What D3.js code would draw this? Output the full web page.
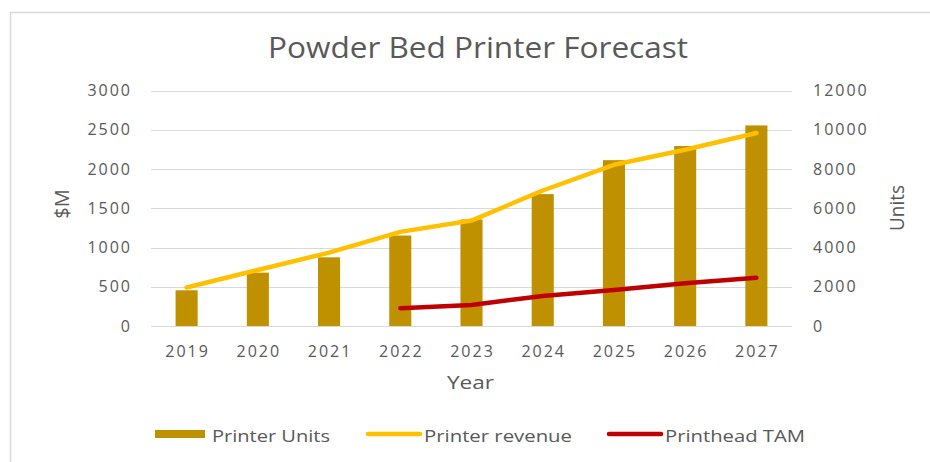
<!DOCTYPE html>
<html><head><meta charset="utf-8">
<script src="https://cdn.jsdelivr.net/npm/d3@7"></script>
<style>body{margin:0;background:#fff}svg text{font-family:"Open Sans",sans-serif;fill:#595959}</style>
</head><body><svg id="c" width="930" height="462"></svg>
<script>
const years = ["2019","2020","2021","2022","2023","2024","2025","2026","2027"];
const printerUnits = [1820, 2720, 3500, 4610, 5430, 6720, 8450, 9170, 10220];
const printerRevenue = [490, 714, 935, 1199, 1343, 1726, 2054, 2245, 2458];
const tamYears = ["2022","2023","2024","2025","2026","2027"];
const printheadTAM = [226, 268, 383, 459, 544, 616];
const leftTicks = [0,500,1000,1500,2000,2500,3000];
const rightTicks = [0,2000,4000,6000,8000,10000,12000];

const svg = d3.select("#c");
const x = d3.scaleBand().domain(years).range([151,792]).paddingInner(0.69).paddingOuter(0.345);
const yL = d3.scaleLinear().domain([0,3000]).range([326,90.5]);
const yR = d3.scaleLinear().domain([0,12000]).range([326,90.5]);

// border
svg.append("path").attr("d","M10.5,462 V12.5 H930").attr("fill","none").attr("stroke","#d9d9d9").attr("stroke-width",1.5);

svg.append("text").attr("x",268).attr("y",58).attr("font-size",30).attr("fill","#606060")
  .attr("textLength",420).attr("lengthAdjust","spacingAndGlyphs").text("Powder Bed Printer Forecast");

// gridlines
svg.append("g").selectAll("line").data(leftTicks).join("line")
  .attr("x1",151).attr("x2",792).attr("y1",d=>Math.round(yL(d))+0.5).attr("y2",d=>Math.round(yL(d))+0.5)
  .attr("stroke","#d9d9d9").attr("stroke-width",1);

function styleTicks(g){
  g.select(".domain").remove();
  g.selectAll("text").attr("font-size",16).style("font-family","Open Sans").style("letter-spacing","2px").attr("fill","#595959");
}
const axL = svg.append("g").attr("transform","translate(132,0)")
  .call(d3.axisLeft(yL).tickValues(leftTicks).tickFormat(d3.format("d")).tickSize(0).tickPadding(0));
styleTicks(axL);
const axR = svg.append("g").attr("transform","translate(813,0)")
  .call(d3.axisRight(yR).tickValues(rightTicks).tickFormat(d3.format("d")).tickSize(0).tickPadding(0));
styleTicks(axR);
const axB = svg.append("g").attr("transform","translate(1,343)").call(d3.axisBottom(x).tickSize(0).tickPadding(3));
styleTicks(axB);

svg.append("text").attr("transform","translate(69,204) rotate(-90)").attr("text-anchor","middle").attr("font-size",20).text("$M");
svg.append("text").attr("transform","translate(904,208) rotate(-90)").attr("text-anchor","middle").attr("font-size",20)
  .attr("textLength",46).attr("lengthAdjust","spacingAndGlyphs").text("Units");
svg.append("text").attr("x",447).attr("y",389).attr("font-size",19)
  .attr("textLength",47).attr("lengthAdjust","spacingAndGlyphs").text("Year");

// bars
svg.append("g").selectAll("rect").data(printerUnits).join("rect")
  .attr("x",(d,i)=>x(years[i])).attr("width",x.bandwidth())
  .attr("y",d=>yR(d)).attr("height",d=>yR(0)-yR(d)).attr("fill","#BF9000");

const line = d3.line().x(d=>x(d[0])+x.bandwidth()/2).y(d=>yL(d[1]));
svg.append("path").datum(years.map((y,i)=>[y,printerRevenue[i]])).attr("d",line)
  .attr("fill","none").attr("stroke","#FFC000").attr("stroke-width",4.5).attr("stroke-linecap","round").attr("stroke-linejoin","round");
svg.append("path").datum(tamYears.map((y,i)=>[y,printheadTAM[i]])).attr("d",line)
  .attr("fill","none").attr("stroke","#C00000").attr("stroke-width",4.5).attr("stroke-linecap","round").attr("stroke-linejoin","round");

// legend
const lg = svg.append("g").attr("font-size",16);
lg.append("rect").attr("x",155).attr("y",430).attr("width",50).attr("height",8).attr("fill","#BF9000");
lg.append("text").attr("x",212).attr("y",442).attr("textLength",118).attr("lengthAdjust","spacingAndGlyphs").text("Printer Units");
lg.append("line").attr("x1",368).attr("x2",420).attr("y1",434).attr("y2",434).attr("stroke","#FFC000").attr("stroke-width",4.5).attr("stroke-linecap","round");
lg.append("text").attr("x",424).attr("y",442).attr("textLength",148).attr("lengthAdjust","spacingAndGlyphs").text("Printer revenue");
lg.append("line").attr("x1",609).attr("x2",661).attr("y1",434).attr("y2",434).attr("stroke","#C00000").attr("stroke-width",4.5).attr("stroke-linecap","round");
lg.append("text").attr("x",665).attr("y",442).attr("textLength",140).attr("lengthAdjust","spacingAndGlyphs").text("Printhead TAM");
</script></body></html>
